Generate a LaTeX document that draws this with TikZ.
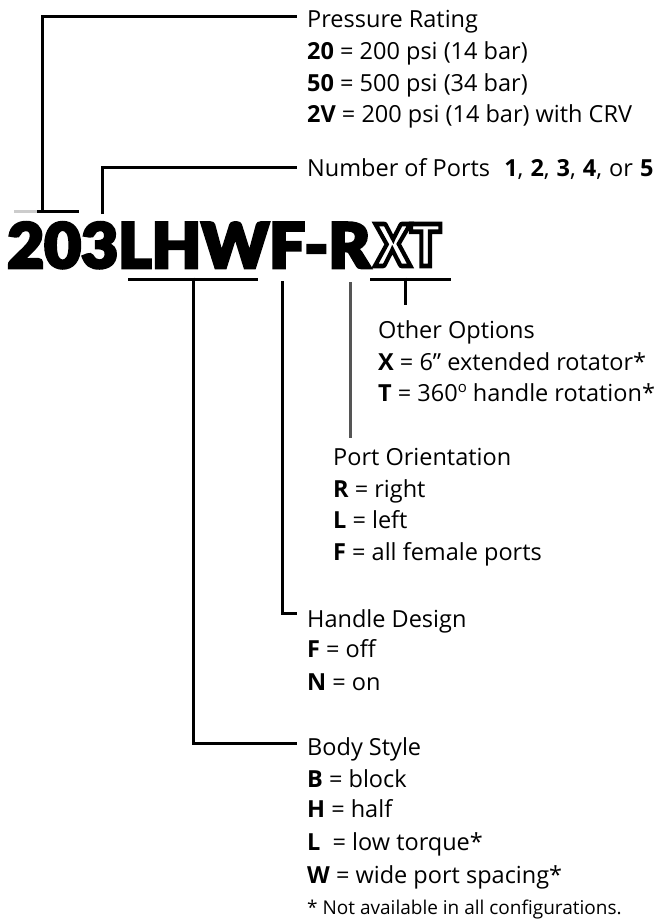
\documentclass[tikz,border=0pt]{standalone}
\usepackage{fontspec}
\setmainfont{Open Sans}
\IfFontExistsTF{Lato Black}{%
  \newfontfamily\codefont{Lato Black}[FakeBold=4]%
  \newfontfamily\optfont{Lato Black}[FakeBold=8]}{%
  \newfontfamily\codefont{DejaVu Sans Bold}[FakeBold=4]%
  \newfontfamily\optfont{DejaVu Sans Bold}[FakeBold=8]}
\newcommand{\outlined}[1]{{\color{white}\special{pdf:literal direct 0 G}#1}}
\newcommand{\supo}{\raisebox{0.36em}{\fontsize{15}{15}\selectfont o}}
\definecolor{portgray}{RGB}{85,85,85}
\begin{document}
\begin{tikzpicture}[x=1pt,y=-1pt]
\tikzset{
  lbl/.style={anchor=base west, inner sep=0pt, font=\fontsize{23.5}{28}\selectfont},
  note/.style={anchor=base west, inner sep=0pt, font=\fontsize{19}{22}\selectfont},
  bar/.style={line width=3pt, black},
  codebox/.style={anchor=base west, inner sep=0pt},
}
\useasboundingbox (0,0) rectangle (660,920);
\fill[white] (0,0) rectangle (660,920);

% model code
\node[codebox] (code) at (7,268) {\resizebox{363pt}{46pt}{\fontsize{64}{64}\codefont 203LHWF-R}};
\node[codebox] (opt) at (375,266) {\resizebox{66pt}{42pt}{\fontsize{64}{64}\optfont\outlined{XT}}};

% labels
\node[lbl] (pr)  at (307,28)  {Pressure Rating};
\node[lbl] (pr1) at (307,60)  {\textbf{20} = 200 psi (14 bar)};
\node[lbl] (pr2) at (307,92)  {\textbf{50} = 500 psi (34 bar)};
\node[lbl] (pr3) at (307,123) {\textbf{2V} = 200 psi (14 bar) with CRV};
\node[lbl] (np)  at (307,177) {Number of Ports\hspace{0.6em}\textbf{1},\hspace{0.3em}\textbf{2},\hspace{0.3em}\textbf{3},\hspace{0.3em}\textbf{4},\hspace{0.3em}or\hspace{0.3em}\textbf{5}};

\node[lbl] (oo)  at (378,338) {Other Options};
\node[lbl] (oo1) at (378,370) {\textbf{X} = 6” extended rotator*};
\node[lbl] (oo2) at (378,401) {\textbf{T} = 360\supo\ handle rotation*};

\node[lbl] (po)  at (333,465) {Port Orientation};
\node[lbl] (po1) at (333,497) {\textbf{R} = right};
\node[lbl] (po2) at (333,528) {\textbf{L} = left};
\node[lbl] (po3) at (333,560) {\textbf{F} = all female ports};

\node[lbl] (hd)  at (307,627) {Handle Design};
\node[lbl] (hd1) at (307,657) {\textbf{F} = off};
\node[lbl] (hd2) at (307,690) {\textbf{N} = on};

\node[lbl] (bs)  at (307,755) {Body Style};
\node[lbl] (bs1) at (307,787) {\textbf{B} = block};
\node[lbl] (bs2) at (307,817) {\textbf{H} = half};
\node[lbl] (bs3) at (307,850) {\textbf{L}\ \ = low torque*};
\node[lbl] (bs4) at (307,883) {\textbf{W} = wide port spacing*};
\node[note] (fn) at (307,914) {* Not available in all configurations.};

% connector points
\coordinate (prB1) at (14,211);
\coordinate (prB2) at (37,211);
\coordinate (prB3) at (79,211);
\coordinate (prV)  at (42,212.5);
\coordinate (prE)  at (297,16.5);
\coordinate (npV)  at (102,214);
\coordinate (npE)  at (297,168);
\coordinate (bsL)  at (128,279);
\coordinate (bsR)  at (258,279);
\coordinate (bsV)  at (193,277.5);
\coordinate (bsE)  at (297,743);
\coordinate (hdV)  at (282,281);
\coordinate (hdE)  at (297,613);
\coordinate (poT)  at (350,282);
\coordinate (poB)  at (350,438);
\coordinate (ooL)  at (370,279);
\coordinate (ooR)  at (451,279);
\coordinate (ooT)  at (405,277.5);
\coordinate (ooB)  at (405,305);

% connectors
\draw[line width=3pt, black!20] (prB1) -- (prB2);
\draw[bar] (prB2) -- (prB3);
\draw[bar] (prV) |- (prE);
\draw[bar] (npV) |- (npE);
\draw[bar] (bsL) -- (bsR);
\draw[bar] (bsV) |- (bsE);
\draw[bar] (hdV) |- (hdE);
\draw[line width=3pt, portgray] (poT) -- (poB);
\draw[bar] (ooL) -- (ooR);
\draw[bar] (ooT) -- (ooB);
\end{tikzpicture}
\end{document}
